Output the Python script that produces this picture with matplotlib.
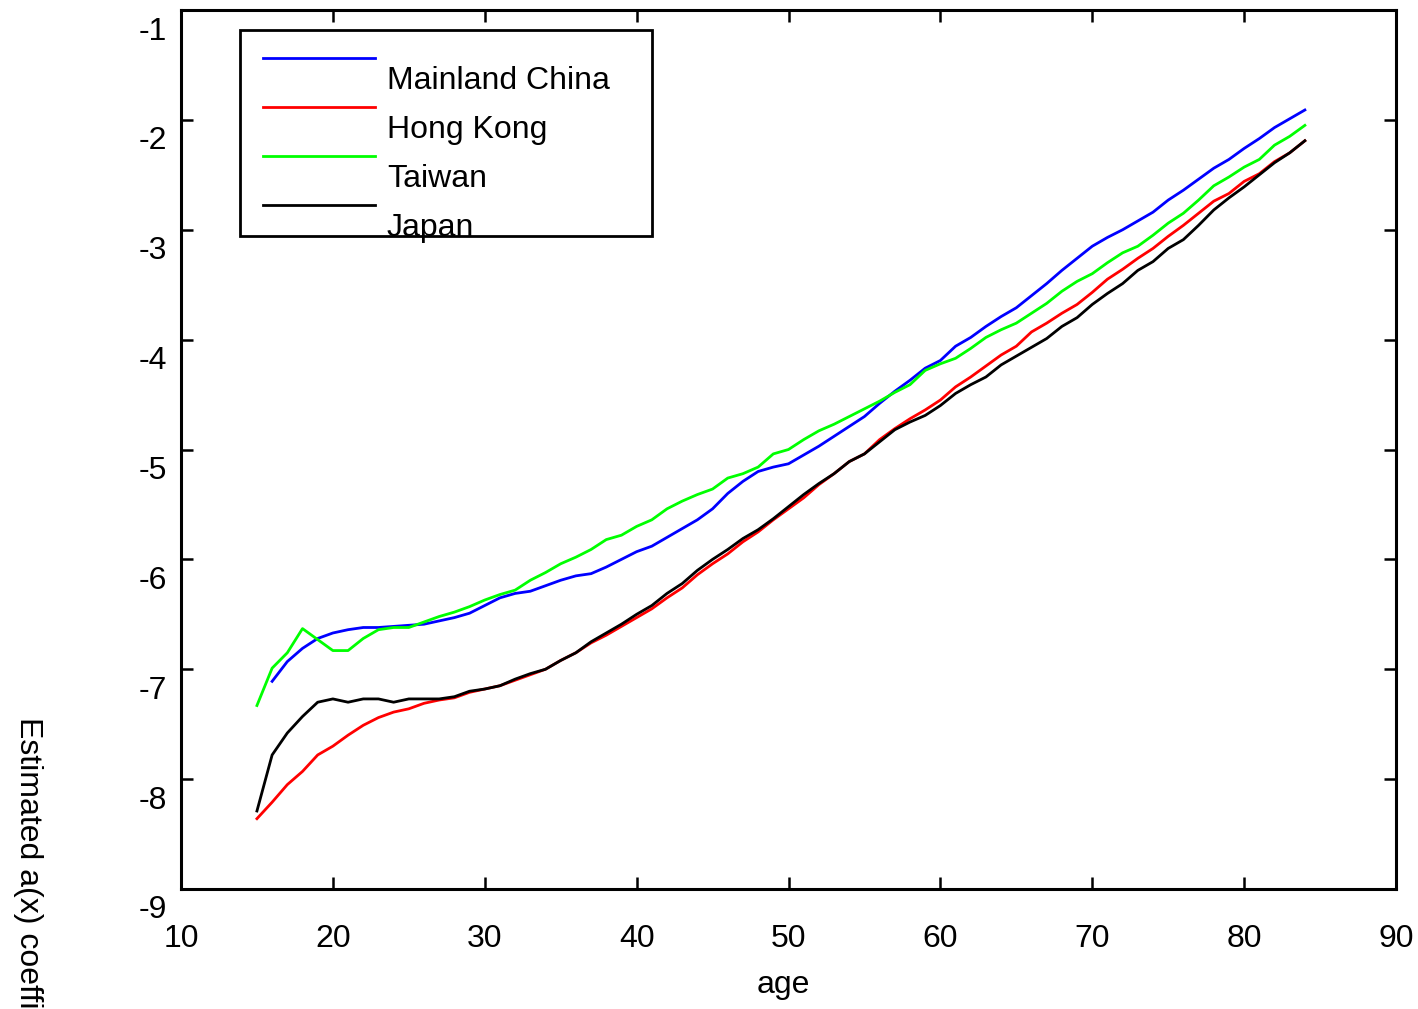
import matplotlib
matplotlib.use("Agg")
import matplotlib.pyplot as plt
import matplotlib.transforms as mtransforms
from matplotlib.lines import Line2D
from matplotlib.patches import Rectangle

plt.rcParams['font.family'] = ['Liberation Sans', 'DejaVu Sans']

ages_main = list(range(15, 85))
ages_china = list(range(16, 85))

mainland_china = [
    -7.11, -6.93, -6.81, -6.72, -6.67, -6.64, -6.62, -6.62, -6.61, -6.60, -6.59, -6.56, -6.53, -6.49,
    -6.42, -6.35, -6.31, -6.29, -6.24, -6.19, -6.15, -6.13, -6.07, -6.00, -5.93, -5.88, -5.80, -5.72, -5.64,
    -5.54, -5.40, -5.29, -5.20, -5.16, -5.13, -5.05, -4.97, -4.88, -4.79, -4.70, -4.58, -4.47, -4.37,
    -4.26, -4.19, -4.06, -3.98, -3.88, -3.79, -3.71, -3.60, -3.49, -3.37, -3.26, -3.15, -3.07, -3.00,
    -2.92, -2.84, -2.73, -2.64, -2.54, -2.44, -2.36, -2.26, -2.17, -2.07, -1.99, -1.91]

hong_kong = [
    -8.36, -8.21, -8.05, -7.93, -7.78, -7.70, -7.60, -7.51, -7.44, -7.39, -7.36, -7.31, -7.28, -7.26, -7.21,
    -7.18, -7.15, -7.10, -7.05, -7.00, -6.92, -6.85, -6.76, -6.69, -6.61, -6.53, -6.45, -6.35, -6.26, -6.14,
    -6.04, -5.95, -5.84, -5.75, -5.64, -5.54, -5.44, -5.32, -5.22, -5.11, -5.04, -4.91, -4.81, -4.72,
    -4.64, -4.55, -4.43, -4.34, -4.24, -4.14, -4.06, -3.93, -3.85, -3.76, -3.68, -3.57, -3.45, -3.36, -3.26,
    -3.17, -3.06, -2.96, -2.85, -2.74, -2.67, -2.56, -2.49, -2.38, -2.30, -2.19]

taiwan = [
    -7.33, -6.99, -6.85, -6.63, -6.73, -6.83, -6.83, -6.72, -6.64, -6.62, -6.62, -6.57, -6.52, -6.48, -6.43,
    -6.37, -6.32, -6.28, -6.19, -6.12, -6.04, -5.98, -5.91, -5.82, -5.78, -5.70, -5.64, -5.54, -5.47, -5.41,
    -5.36, -5.26, -5.22, -5.16, -5.04, -5.00, -4.91, -4.83, -4.77, -4.70, -4.63, -4.56, -4.48, -4.41,
    -4.28, -4.22, -4.17, -4.08, -3.98, -3.91, -3.85, -3.76, -3.67, -3.56, -3.47, -3.40, -3.30, -3.21, -3.15,
    -3.05, -2.94, -2.85, -2.73, -2.60, -2.52, -2.43, -2.36, -2.23, -2.15, -2.05]

japan = [
    -8.29, -7.78, -7.58, -7.43, -7.30, -7.27, -7.30, -7.27, -7.27, -7.30, -7.27, -7.27, -7.27, -7.25, -7.20,
    -7.18, -7.15, -7.09, -7.04, -7.00, -6.92, -6.85, -6.75, -6.67, -6.59, -6.50, -6.42, -6.31, -6.22, -6.10,
    -6.00, -5.91, -5.81, -5.73, -5.63, -5.52, -5.41, -5.31, -5.22, -5.11, -5.04, -4.93, -4.82, -4.75,
    -4.69, -4.60, -4.49, -4.41, -4.34, -4.23, -4.15, -4.07, -3.99, -3.88, -3.80, -3.68, -3.58, -3.49, -3.37,
    -3.29, -3.17, -3.09, -2.96, -2.82, -2.71, -2.61, -2.50, -2.39, -2.30, -2.19]

series_names = ['Mainland China', 'Hong Kong', 'Taiwan', 'Japan']
series_colors = ['#0000ff', '#ff0000', '#00ff00', '#000000']
xticks = [10, 20, 30, 40, 50, 60, 70, 80, 90]
yticks = [-9, -8, -7, -6, -5, -4, -3, -2, -1]

FS = 23

W, H = 1418, 1009
fig = plt.figure(figsize=(W / 100, H / 100), dpi=100)
ax = fig.add_axes([181 / W, 1 - 889 / H, (1396 - 181) / W, (889 - 10) / H])

series_data = [(ages_china, mainland_china), (ages_main, hong_kong),
               (ages_main, taiwan), (ages_main, japan)]
for (xs, ys), c in zip(series_data, series_colors):
    ax.plot(xs, ys, color=c, lw=2.0, solid_joinstyle='round')

ax.set_xlim(10, 90)
ax.set_ylim(-9, -1)
ax.set_xticks(xticks)
ax.set_yticks(yticks)
ax.set_xticklabels([str(v) for v in xticks])
ax.set_yticklabels([str(v) for v in yticks])
ax.tick_params(direction='in', length=8.5, width=1.8, top=True, right=True,
               labelsize=FS)
ax.tick_params(axis='x', pad=25)
ax.tick_params(axis='y', pad=10)
off = mtransforms.ScaledTranslation(0, -0.18, fig.dpi_scale_trans)
for lbl in ax.get_yticklabels():
    lbl.set_transform(lbl.get_transform() + off)
for sp in ax.spines.values():
    sp.set_linewidth(2.2)

# axis labels
fig.text(783 / W, 1 - 993 / H, 'age', ha='center', va='baseline', fontsize=FS)
fig.text(28 / W, 1 - 717 / H, 'Estimated a(x) coefficient', rotation=270,
         ha='center', va='top', fontsize=FS)

# custom legend box
def ax_xy(px, py):
    return (px - 181) / 1215, (889 - py) / 879

x0, y0 = ax_xy(240, 236)
x1, y1 = ax_xy(652, 30)
ax.add_patch(Rectangle((x0, y0), x1 - x0, y1 - y0, transform=ax.transAxes,
                       facecolor='white', edgecolor='black', lw=2.0, zorder=5))
line_y = [58, 107, 156, 205]
text_y = [81, 130, 179, 228]
for name, c, ly, ty in zip(series_names, series_colors, line_y, text_y):
    lx0, lyy = ax_xy(263, ly)
    lx1, _ = ax_xy(375, ly)
    ax.add_line(Line2D([lx0, lx1], [lyy, lyy], transform=ax.transAxes,
                       color=c, lw=2.0, zorder=6))
    tx, tyy = ax_xy(387, ty)
    ax.text(tx, tyy, name, transform=ax.transAxes, ha='left', va='center',
            fontsize=FS, zorder=7)

fig.savefig('out.png', dpi=100)
